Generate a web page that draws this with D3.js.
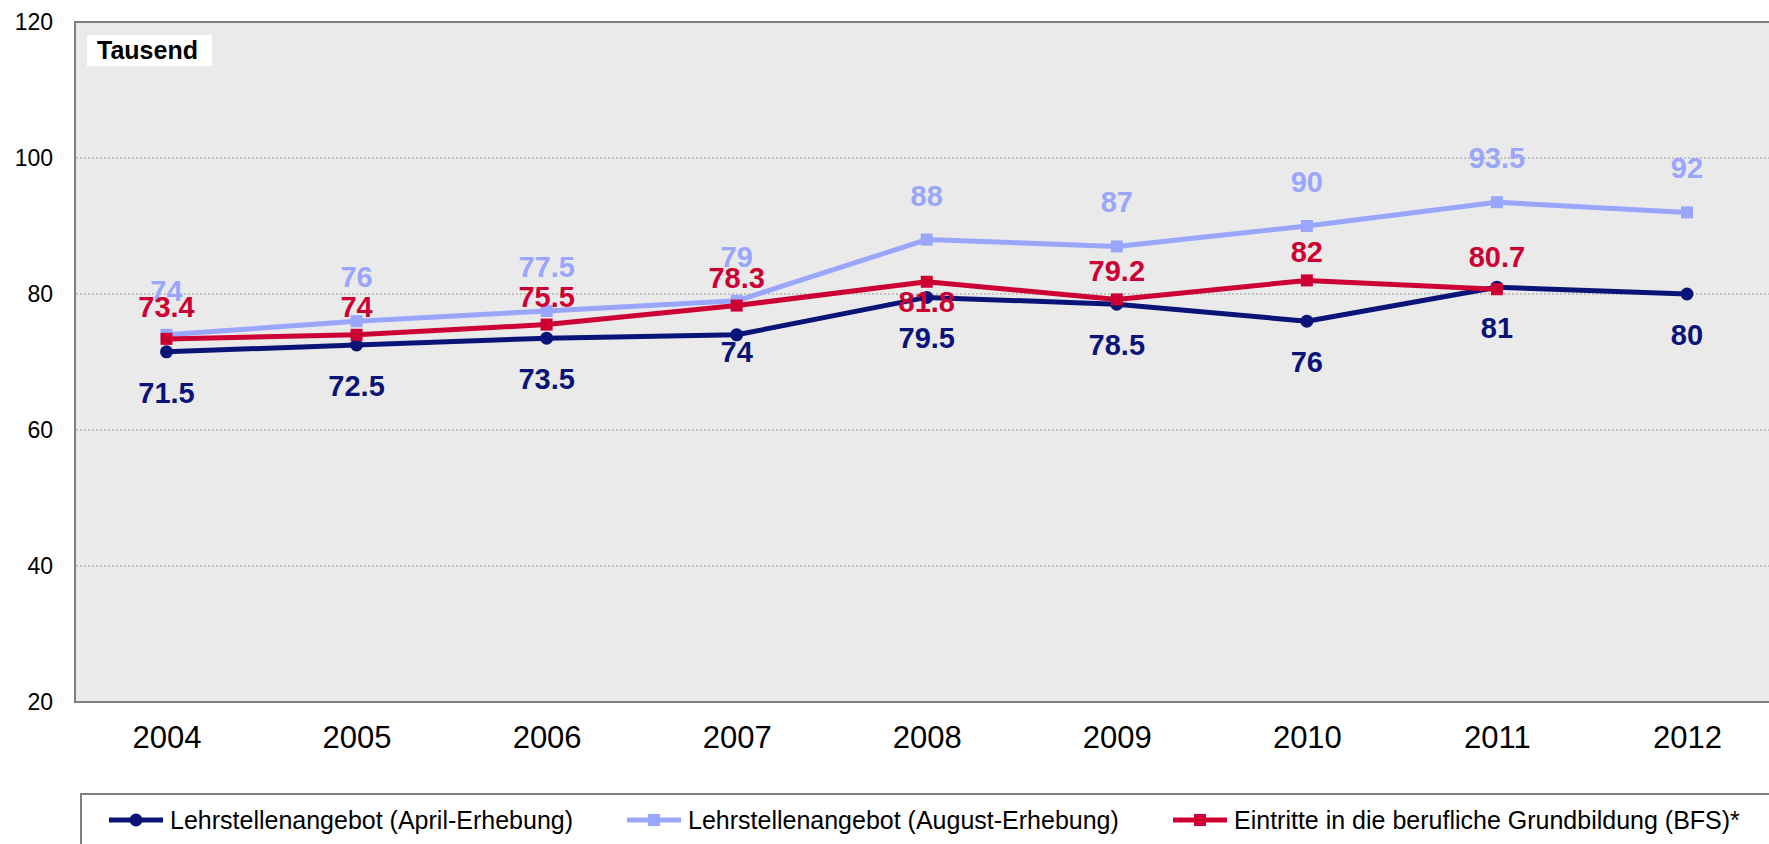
<!DOCTYPE html>
<html>
<head>
<meta charset="utf-8">
<script src="https://cdn.jsdelivr.net/npm/d3@7"></script>
<style>
  html, body { margin: 0; padding: 0; background: #fff; overflow: hidden; }
  svg { display: block; font-family: Arial, "Liberation Sans", sans-serif; }
</style>
</head>
<body>
<div id="container"></div>
<script>
// Data (Tausend).
const years = ['2004', '2005', '2006', '2007', '2008', '2009', '2010', '2011', '2012'];
const aprilValues = [71.5, 72.5, 73.5, 74, 79.5, 78.5, 76, 81, 80];
const augustValues = [74, 76, 77.5, 79, 88, 87, 90, 93.5, 92];
const bfsValues = [73.4, 74, 75.5, 78.3, 81.8, 79.2, 82, 80.7, null];
const yTicks = [20, 40, 60, 80, 100, 120];
const seriesNames = [
  'Lehrstellenangebot (April-Erhebung)',
  'Lehrstellenangebot (August-Erhebung)',
  'Eintritte in die berufliche Grundbildung (BFS)*'
];

// Label nudges (baseline offset from point), with a few hand-placed exceptions like in the original.
const labelShift = {
  april: { base: 51, except: { '2007': 27 } },
  august: { base: -34, except: {} },
  bfs: { base: -18, except: { '2004': -22, '2011': -22, '2008': 30 } }
};

const width = 1769, height = 844;
const plot = { left: 75, top: 22, right: 1800, bottom: 702 };

const svg = d3.select('#container')
  .append('svg')
  .attr('width', width)
  .attr('height', height);

const x = d3.scalePoint().domain(years).range([166.5, 1687]);
const y = d3.scaleLinear().domain([20, 120]).range([plot.bottom, plot.top]);

// Plot background.
svg.append('rect')
  .attr('x', plot.left)
  .attr('y', plot.top)
  .attr('width', plot.right - plot.left)
  .attr('height', plot.bottom - plot.top)
  .attr('fill', '#eaeaea')
  .attr('stroke', '#808080')
  .attr('stroke-width', 2);

// Gridlines.
svg.append('g')
  .selectAll('line')
  .data(yTicks.filter(d => d > 20 && d < 120))
  .enter()
  .append('line')
  .attr('x1', plot.left + 1)
  .attr('x2', plot.right)
  .attr('y1', d => y(d))
  .attr('y2', d => y(d))
  .attr('stroke', '#9a9a9a')
  .attr('stroke-width', 1)
  .attr('stroke-dasharray', '2,2');

// Y axis.
const yAxis = svg.append('g')
  .attr('transform', 'translate(53,0)')
  .call(d3.axisLeft(y).tickValues(yTicks).tickSize(0).tickPadding(0));
yAxis.select('.domain').remove();
yAxis.selectAll('text')
  .attr('font-size', 23)
  .attr('font-family', 'Arial, "Liberation Sans", sans-serif')
  .attr('fill', '#000');

// X axis.
const xAxis = svg.append('g')
  .attr('transform', `translate(0,${plot.bottom})`)
  .call(d3.axisBottom(x).tickSize(0).tickPadding(0));
xAxis.select('.domain').remove();
xAxis.selectAll('text')
  .attr('font-size', 31)
  .attr('font-family', 'Arial, "Liberation Sans", sans-serif')
  .attr('fill', '#000')
  .attr('dy', null)
  .attr('y', 46);

// "Tausend" tag.
svg.append('rect')
  .attr('x', 87).attr('y', 35)
  .attr('width', 125).attr('height', 31)
  .attr('fill', '#fff');
svg.append('text')
  .attr('x', 97).attr('y', 59)
  .attr('font-size', 25)
  .attr('font-weight', 'bold')
  .attr('fill', '#000')
  .text('Tausend');

// Series.
const series = [
  { key: 'april', name: seriesNames[0], values: aprilValues, colour: '#0a1478', marker: 'circle' },
  { key: 'august', name: seriesNames[1], values: augustValues, colour: '#99a6fc', marker: 'square' },
  { key: 'bfs', name: seriesNames[2], values: bfsValues, colour: '#cc0033', marker: 'square' }
];
series.forEach(s => {
  s.points = years.map((yr, i) => ({ year: yr, value: s.values[i] })).filter(d => d.value != null);
});

const line = d3.line().x(d => x(d.year)).y(d => y(d.value));

const drawOrder = [series[0], series[1], series[2]];
drawOrder.forEach(s => {
  const g = svg.append('g');
  g.append('path')
    .datum(s.points)
    .attr('d', line)
    .attr('fill', 'none')
    .attr('stroke', s.colour)
    .attr('stroke-width', 5)
    .attr('stroke-linejoin', 'round');
  if (s.marker === 'circle') {
    g.selectAll('circle')
      .data(s.points)
      .enter()
      .append('circle')
      .attr('cx', d => x(d.year))
      .attr('cy', d => y(d.value))
      .attr('r', 6.5)
      .attr('fill', s.colour);
  } else {
    g.selectAll('rect')
      .data(s.points)
      .enter()
      .append('rect')
      .attr('x', d => x(d.year) - 6)
      .attr('y', d => y(d.value) - 6)
      .attr('width', 12)
      .attr('height', 12)
      .attr('fill', s.colour);
  }
});

// Value labels.
drawOrder.forEach(s => {
  const shift = labelShift[s.key];
  svg.append('g')
    .selectAll('text')
    .data(s.points)
    .enter()
    .append('text')
    .attr('x', d => x(d.year))
    .attr('y', d => y(d.value) + (shift.except[d.year] !== undefined ? shift.except[d.year] : shift.base))
    .attr('text-anchor', 'middle')
    .attr('font-size', 29)
    .attr('font-weight', 'bold')
    .attr('fill', s.colour)
    .text(d => d.value);
});

// Legend.
svg.append('rect')
  .attr('x', 81).attr('y', 794)
  .attr('width', 1760).attr('height', 100)
  .attr('fill', '#fff')
  .attr('stroke', '#808080')
  .attr('stroke-width', 2);

const legendX = [109, 627, 1173];
const legend = svg.selectAll('.legend__key')
  .data(series)
  .enter()
  .append('g')
  .attr('class', 'legend__key')
  .attr('transform', (d, i) => `translate(${legendX[i]},820)`);

legend.append('line')
  .attr('x1', 0).attr('x2', 54)
  .attr('y1', 0).attr('y2', 0)
  .attr('stroke', d => d.colour)
  .attr('stroke-width', 5);
legend.filter(d => d.marker === 'circle')
  .append('circle')
  .attr('cx', 27).attr('cy', 0).attr('r', 6.5)
  .attr('fill', d => d.colour);
legend.filter(d => d.marker === 'square')
  .append('rect')
  .attr('x', 21).attr('y', -6).attr('width', 12).attr('height', 12)
  .attr('fill', d => d.colour);
legend.append('text')
  .attr('x', 61)
  .attr('y', 9)
  .attr('font-size', 25)
  .attr('fill', '#000')
  .text(d => d.name);
</script>
</body>
</html>
